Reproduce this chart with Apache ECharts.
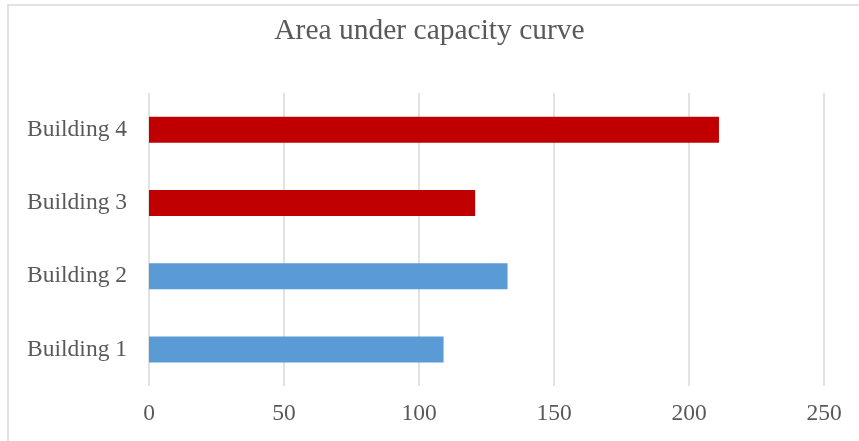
<!DOCTYPE html>
<html>
<head>
<meta charset="utf-8">
<script src="https://cdn.jsdelivr.net/npm/echarts@6/dist/echarts.min.js"></script>
<style>
  html, body { margin: 0; padding: 0; background: #fff; }
  #chart { width: 859px; height: 441px; }
</style>
</head>
<body>
<div id="chart"></div>
<script>
// Area under the capacity curve for each building
const categories = ['Building 1', 'Building 2', 'Building 3', 'Building 4'];
const areaValues = [109.1, 132.8, 120.8, 211.1];
const xTicks = [0, 50, 100, 150, 200, 250];

// Buildings 1–2 in blue, 3–4 in red
const barColors = ['#5B9BD5', '#5B9BD5', '#C00000', '#C00000'];

const serif = '"Liberation Serif", "Times New Roman", serif';
const chart = echarts.init(document.getElementById('chart'));

chart.setOption({
  animation: false,
  backgroundColor: '#ffffff',
  title: {
    text: 'Area under capacity curve',
    left: 'center',
    top: 11,
    textStyle: { fontFamily: serif, fontSize: 29.5, fontWeight: 'normal', color: '#595959' }
  },
  graphic: [{
    type: 'rect',
    shape: { x: 8, y: 5, width: 900, height: 500 },
    style: { fill: 'none', stroke: '#d9d9d9', lineWidth: 1.5 },
    silent: true
  }],
  grid: { left: 149, right: 35, top: 93, bottom: 55, containLabel: false },
  xAxis: {
    type: 'value',
    min: xTicks[0],
    max: xTicks[xTicks.length - 1],
    interval: xTicks[1] - xTicks[0],
    axisLine: { show: false },
    axisTick: { show: false },
    splitLine: { show: true, lineStyle: { color: '#d9d9d9', width: 1.5 } },
    axisLabel: { fontFamily: serif, fontSize: 23.5, color: '#595959', margin: 16 }
  },
  yAxis: {
    type: 'category',
    data: categories,
    axisLine: { show: false },
    axisTick: { show: false },
    splitLine: { show: false },
    axisLabel: { fontFamily: serif, fontSize: 23.5, color: '#595959', margin: 22 }
  },
  series: [{
    type: 'bar',
    data: areaValues,
    barWidth: 26,
    itemStyle: { color: p => barColors[p.dataIndex] }
  }]
});
</script>
</body>
</html>
